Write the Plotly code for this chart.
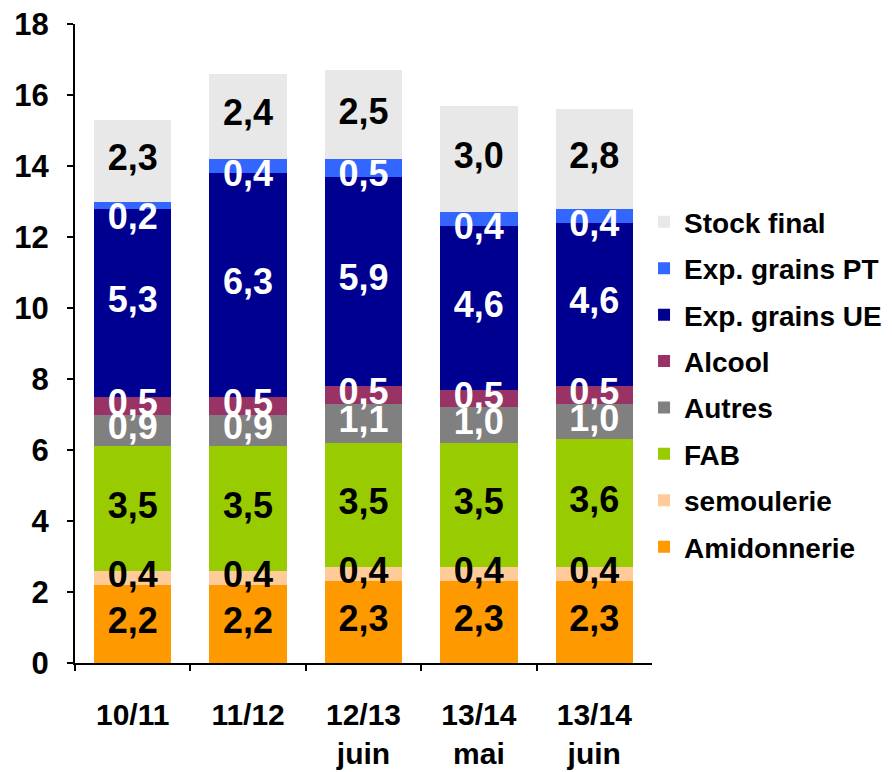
import numpy as np
import plotly.graph_objects as go

categories = ["10/11", "11/12", "12/13<br>juin", "13/14<br>mai", "13/14<br>juin"]

amidonnerie = [2.2, 2.2, 2.3, 2.3, 2.3]
semoulerie = [0.4, 0.4, 0.4, 0.4, 0.4]
fab = [3.5, 3.5, 3.5, 3.5, 3.6]
autres = [0.9, 0.9, 1.1, 1.0, 1.0]
alcool = [0.5, 0.5, 0.5, 0.5, 0.5]
exp_ue = [5.3, 6.3, 5.9, 4.6, 4.6]
exp_pt = [0.2, 0.4, 0.5, 0.4, 0.4]
stock_final = [2.3, 2.4, 2.5, 3.0, 2.8]

series = [
    ("Amidonnerie", amidonnerie, "#FF9900", "black"),
    ("semoulerie", semoulerie, "#FFCC99", "black"),
    ("FAB", fab, "#99CC00", "black"),
    ("Autres", autres, "#808080", "white"),
    ("Alcool", alcool, "#993366", "white"),
    ("Exp. grains UE", exp_ue, "#000090", "white"),
    ("Exp. grains PT", exp_pt, "#3366FF", "white"),
    ("Stock final", stock_final, "#E8E8E8", "black"),
]

FONT = "Liberation Sans, Arial, sans-serif"

fig = go.Figure()

base = np.zeros(len(categories))
labels = []
for i, (name, vals, color, txtcolor) in enumerate(series):
    vals = np.array(vals)
    fig.add_trace(
        go.Bar(
            x=categories,
            y=vals,
            name=name,
            marker=dict(color=color, line=dict(width=0)),
            legendgroup=f"g{i}",
            legendrank=len(series) - i,
            hoverinfo="skip",
        )
    )
    if name == "Exp. grains PT":
        # small segment: label hangs below the top of the segment
        labels.append((base + vals, vals, txtcolor, "bottom center"))
    else:
        labels.append((base + vals / 2, vals, txtcolor, "middle center"))
    base = base + vals

for ypos, vals, txtcolor, pos in labels:
    fig.add_trace(
        go.Scatter(
            x=categories,
            y=ypos,
            mode="text",
            text=[f"{v:.1f}".replace(".", ",") for v in vals],
            textposition=pos,
            textfont=dict(family=FONT, size=36, color=txtcolor, weight="bold"),
            showlegend=False,
            hoverinfo="skip",
            cliponaxis=False,
        )
    )

# page body has an 8px margin; the legend sits inside the paper area (right of
# the x-axis domain) so it does not push the margins
fig.update_layout(
    barmode="stack",
    bargap=0.33,
    width=884,
    height=764,
    paper_bgcolor="white",
    plot_bgcolor="white",
    margin=dict(l=67, r=0, t=16, b=109),
    font=dict(family=FONT, color="black"),
    showlegend=True,
    legend=dict(
        traceorder="grouped",
        tracegroupgap=7,
        x=0.6965,
        xanchor="left",
        y=0.729,
        yanchor="top",
        font=dict(size=28, weight="bold"),
        bgcolor="rgba(0,0,0,0)",
    ),
    xaxis=dict(
        type="category",
        domain=[0, 0.7062],
        automargin=False,
        showline=True,
        linecolor="black",
        linewidth=2,
        ticks="outside",
        tickson="boundaries",
        ticklen=6,
        tickwidth=2,
        tickcolor="black",
        ticklabelstandoff=24,
        ticklabeloverflow="allow",
        tickfont=dict(size=30, weight="bold"),
        showgrid=False,
    ),
    yaxis=dict(
        range=[0, 18],
        dtick=2,
        automargin=False,
        showline=True,
        linecolor="black",
        linewidth=2,
        ticks="outside",
        ticklen=6,
        tickwidth=2,
        tickcolor="black",
        ticklabelstandoff=12,
        ticklabeloverflow="allow",
        tickfont=dict(size=31, weight="bold"),
        showgrid=False,
        zeroline=False,
    ),
)

fig.write_html("out.html")
